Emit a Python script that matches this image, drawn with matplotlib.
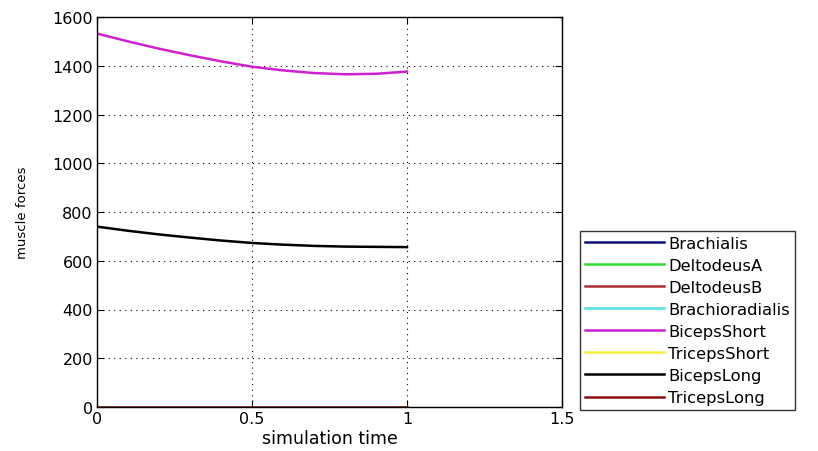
import numpy as np
import matplotlib.pyplot as plt

# ---   DATA   --- #
t = [0.0, 0.1, 0.2, 0.3, 0.4, 0.5, 0.6, 0.7, 0.8, 0.9, 1.0]
brachialis = [0, 0, 0, 0, 0, 0, 0, 0, 0, 0, 0]
deltodeus_a = [0, 0, 0, 0, 0, 0, 0, 0, 0, 0, 0]
deltodeus_b = [0, 0, 0, 0, 0, 0, 0, 0, 0, 0, 0]
brachioradialis = [0, 0, 0, 0, 0, 0, 0, 0, 0, 0, 0]
biceps_short = [1532, 1500, 1470, 1443, 1418, 1396, 1381, 1370, 1365, 1367, 1376]
triceps_short = [0, 0, 0, 0, 0, 0, 0, 0, 0, 0, 0]
biceps_long = [740, 723, 708, 695, 683, 673, 666, 661, 658, 657, 656]
triceps_long = [0, 0, 0, 0, 0, 0, 0, 0, 0, 0, 0]

names = ['Brachialis', 'DeltodeusA', 'DeltodeusB', 'Brachioradialis',
         'BicepsShort', 'TricepsShort', 'BicepsLong', 'TricepsLong']
series = [brachialis, deltodeus_a, deltodeus_b, brachioradialis,
          biceps_short, triceps_short, biceps_long, triceps_long]
colors = ['#10107a', '#33dd33', '#b03030', '#55e0e0',
          '#cc22cc', '#f0f040', '#000000', '#8b1010']

xticks = [0, 0.5, 1, 1.5]
yticks = [0, 200, 400, 600, 800, 1000, 1200, 1400, 1600]

# ---   PLOT   --- #
plt.rcParams['font.family'] = ['DejaVu Sans']
fig = plt.figure(figsize=(8.18, 4.52), dpi=100)
ax = fig.add_axes([97 / 818, 1 - 408 / 452, 465 / 818, 390 / 452])

for name, ys, c in zip(names, series, colors):
    ax.plot(t, ys, color=c, lw=1.8, label=name)

ax.set_xlim(0, 1.5)
ax.set_ylim(0, 1600)
ax.set_xticks(xticks)
ax.set_xticklabels(['0', '0.5', '1', '1.5'])
ax.set_yticks(yticks)
ax.tick_params(direction='in', top=True, right=True, labelsize=11.5,
               length=5, pad=3)
ax.grid(True, color='black', linestyle=(0, (1, 4)), linewidth=0.8)
for sp in ax.spines.values():
    sp.set_linewidth(1.0)
ax.set_xlabel('simulation time', fontsize=12.5, labelpad=2)
ax.set_ylabel('muscle forces', fontsize=9.5, labelpad=17,
              family='Liberation Sans Narrow')

leg = ax.legend(loc='upper left', bbox_to_anchor=(580 / 818, 1 - 232 / 452),
                bbox_transform=fig.transFigure, fontsize=11.8, handlelength=4.8,
                handletextpad=0.3, labelspacing=0.43, borderaxespad=0,
                frameon=True, fancybox=False, borderpad=0.3)
leg.get_frame().set_edgecolor('black')
leg.get_frame().set_linewidth(1.0)

plt.savefig('out.png', dpi=100)
